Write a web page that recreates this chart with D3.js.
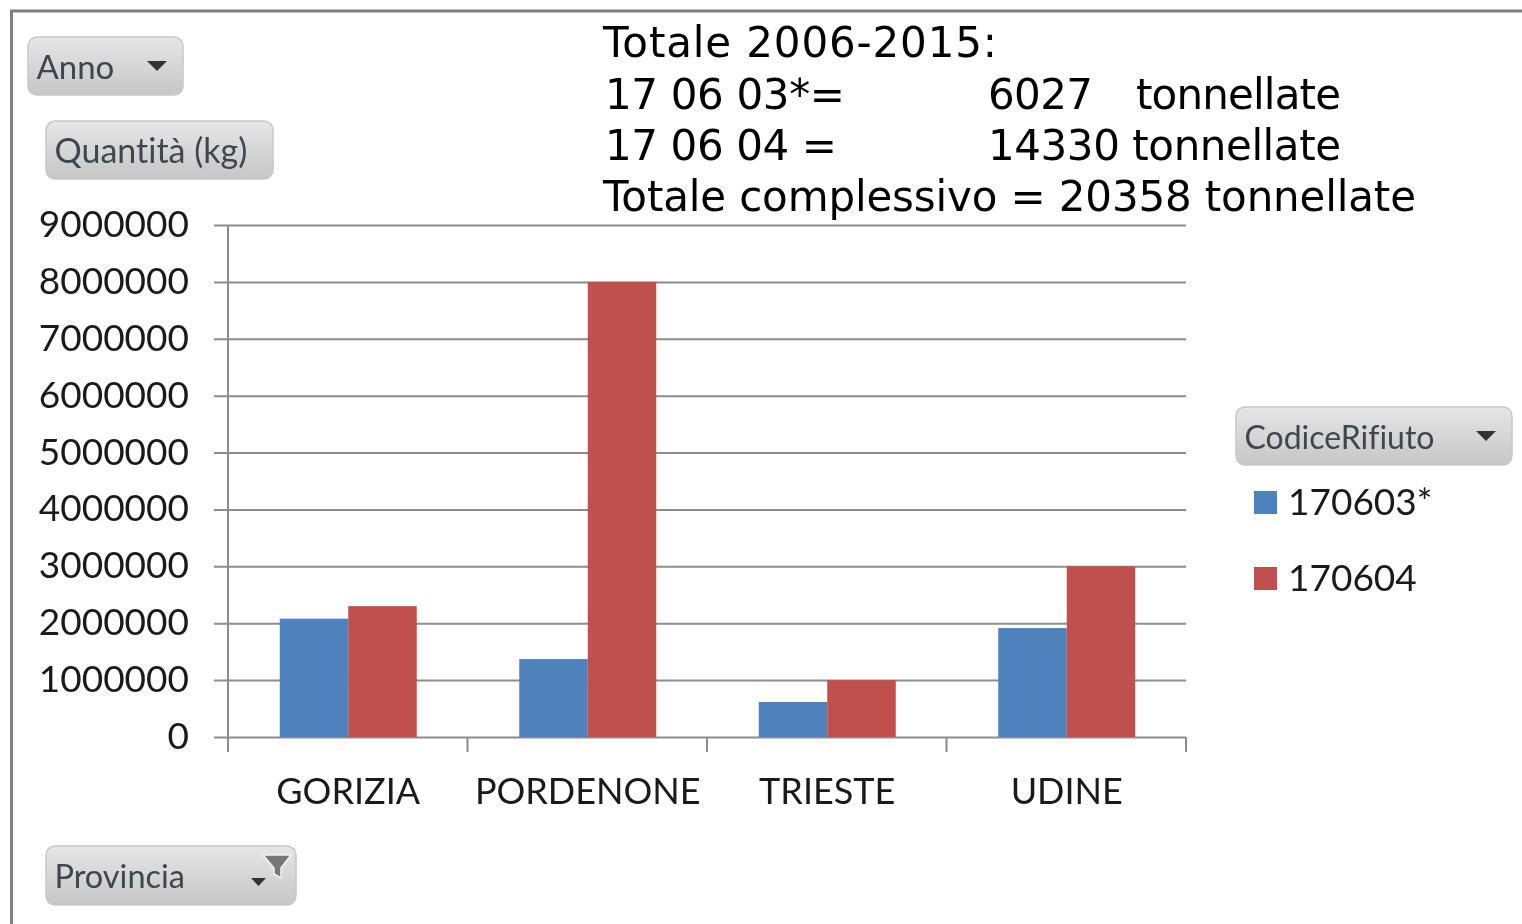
<!DOCTYPE html>
<html>
<head>
<meta charset="utf-8">
<script src="https://cdn.jsdelivr.net/npm/d3@7"></script>
<style>
  html, body { margin: 0; padding: 0; background: #fff; overflow: hidden; }
  svg { display: block; filter: blur(0.5px); }
  text { font-variant-ligatures: none; }
  .lbl { font-family: Lato, "Open Sans", sans-serif; fill: #1a1a1a; }
  .note { font-family: "DejaVu Sans", sans-serif; fill: #000; font-size: 42px; }
  .btn { font-family: Lato, "Open Sans", sans-serif; fill: #3f4650; }
</style>
</head>
<body>
<svg width="1522" height="924"></svg>
<script>
const provinces = ['GORIZIA', 'PORDENONE', 'TRIESTE', 'UDINE'];
const codes = ['170603*', '170604'];
const values170603 = [2080000, 1370000, 615000, 1915000];
const values170604 = [2300000, 8000000, 1000000, 3000000];
const yTicks = [0, 1000000, 2000000, 3000000, 4000000, 5000000, 6000000, 7000000, 8000000, 9000000];
const colors = ['#4f81bd', '#c0504d'];
const noteLines = [
  ['Totale 2006-2015:'],
  ['17 06 03*=', '6027', 'tonnellate'],
  ['17 06 04 =', '14330 tonnellate'],
  ['Totale complessivo = 20358 tonnellate'],
];

const svg = d3.select('svg');

const grad = svg.append('defs').append('linearGradient')
  .attr('id', 'btn-fill').attr('x1', 0).attr('x2', 0).attr('y1', 0).attr('y2', 1);
grad.append('stop').attr('offset', '0%').attr('stop-color', '#e6e6e6');
grad.append('stop').attr('offset', '100%').attr('stop-color', '#c6c6c6');

// outer frame of the screenshot, open on the right and bottom
svg.append('path')
  .attr('d', 'M 11.5 924 L 11.5 11 L 1522 11')
  .attr('fill', 'none').attr('stroke', '#808080').attr('stroke-width', 3);

const x = d3.scaleBand().domain(provinces).range([228, 1186]).paddingInner(0.428).paddingOuter(0.214);
const y = d3.scaleLinear().domain([0, 9000000]).range([737, 225]);
const x1 = d3.scaleBand().domain(codes).range([0, x.bandwidth()]);

// y axis: ticks run on as gridlines
const yAxis = svg.append('g').attr('transform', 'translate(228,0)')
  .call(d3.axisLeft(y).tickValues(yTicks).tickFormat(d3.format('d')).tickSize(14).tickPadding(25));
yAxis.select('.domain').remove();
yAxis.selectAll('.tick line').attr('x2', 958).attr('x1', -14).attr('stroke', '#8c8c8c').attr('stroke-width', 2);
yAxis.selectAll('.tick text').attr('class', 'lbl').attr('font-size', 37).attr('x', -39).attr('dy', '0.31em');

svg.append('line')
  .attr('x1', 228).attr('x2', 228).attr('y1', y(9000000)).attr('y2', 752)
  .attr('stroke', '#8c8c8c').attr('stroke-width', 2);

// category boundaries below the baseline
const step = x.step();
svg.append('g').selectAll('line').data(d3.range(1, provinces.length + 1)).join('line')
  .attr('x1', i => 228 + i * step).attr('x2', i => 228 + i * step)
  .attr('y1', 737).attr('y2', 752)
  .attr('stroke', '#8c8c8c').attr('stroke-width', 2);

[values170603, values170604].forEach((vals, s) => {
  svg.append('g').selectAll('rect').data(vals).join('rect')
    .attr('x', (d, i) => x(provinces[i]) + x1(codes[s]) + 0.5)
    .attr('width', x1.bandwidth())
    .attr('y', d => y(d))
    .attr('height', d => y(0) - y(d))
    .attr('fill', colors[s]);
});

svg.append('g').selectAll('text').data(provinces).join('text')
  .attr('class', 'lbl').attr('font-size', 36)
  .attr('x', d => x(d) + x.bandwidth() / 2 + 0.5)
  .attr('y', 804)
  .attr('text-anchor', 'middle')
  .text(d => d);

// text block top right, widths forced because DejaVu runs differently from the original face
const noteY = [57, 109, 160, 211];
const noteTabs = [[603], [605, 988, 1136], [605, 988], [603]];
const noteWidths = [[394], [240, 105, 205], [232, 353], [813]];
noteLines.forEach((parts, i) => {
  parts.forEach((p, j) => {
    svg.append('text').attr('class', 'note')
      .attr('x', noteTabs[i][j]).attr('y', noteY[i])
      .attr('textLength', noteWidths[i][j])
      .attr('lengthAdjust', 'spacing')
      .text(p);
  });
});

function button(bx, by, w, h, label, size, arrowX) {
  const g = svg.append('g');
  g.append('rect').attr('x', bx).attr('y', by).attr('width', w).attr('height', h).attr('rx', 9)
    .attr('fill', 'url(#btn-fill)').attr('stroke', '#c8c8c8').attr('stroke-width', 1.5);
  g.append('text').attr('class', 'btn').attr('font-size', size)
    .attr('x', bx + 8.5).attr('y', by + 42).text(label);
  if (arrowX) {
    g.append('path').attr('d', `M ${arrowX - 10} ${by + 24} h 20 l -10 10 z`).attr('fill', '#333');
  }
  return g;
}

button(28, 37, 155, 58, 'Anno', 33, 157);
button(46, 121, 227, 58, 'Quantità (kg)', 34);
button(1236, 407, 276, 58, 'CodiceRifiuto', 32, 1486);
const prov = button(46, 846, 250, 59, 'Provincia', 32.5);
prov.append('path').attr('d', 'M 251 878 h 15 l -7.5 8 z').attr('fill', '#333');
prov.append('path').attr('d', 'M 263 855 h 28 l -10 13 v 10 l -7 -4 v -6 z')
  .attr('fill', '#777').attr('stroke', '#f4f4f4').attr('stroke-width', 1.5);

// legend
const legendY = d3.scalePoint().domain(codes).range([503, 579]);
codes.forEach((c, i) => {
  svg.append('rect').attr('x', 1254).attr('y', legendY(c) - 12).attr('width', 23).attr('height', 23)
    .attr('fill', colors[i]);
  svg.append('text').attr('class', 'lbl').attr('font-size', 37)
    .attr('x', 1288).attr('y', legendY(c) + 12).text(c);
});
</script>
</body>
</html>
